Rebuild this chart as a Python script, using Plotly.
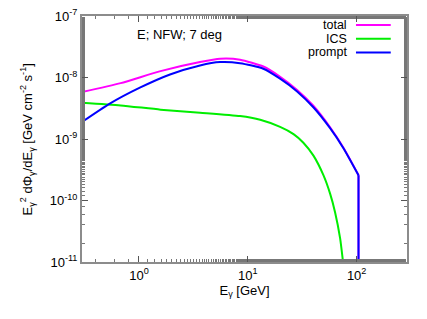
import plotly.graph_objects as go

# ---- data ----
prompt_E = [0.3, 0.54, 1.02, 1.93, 3.64, 5.57, 8.49, 13.9, 19.8, 28.2, 40.0, 57.0, 75.6, 104]
prompt_F = [1.89e-9, 3.76e-9, 6.83e-9, 1.12e-8, 1.57e-8, 1.78e-8, 1.71e-8, 1.39e-8, 9.57e-9,
            6.0e-9, 3.28e-9, 1.5e-9, 7.1e-10, 2.58e-10]

total_E = [0.3, 0.68, 1.58, 3.64, 5.57, 8.49, 13.9, 19.8, 28.2, 40.0, 57.0, 75.6, 104]
total_F = [5.8e-9, 8.1e-9, 1.27e-8, 1.78e-8, 2.02e-8, 1.95e-8, 1.51e-8, 1.03e-8,
           6.34e-9, 3.47e-9, 1.55e-9, 7.2e-10, 2.58e-10]

ics_E = [0.3, 0.68, 1.58, 3.64, 8.49, 13.0, 19.8, 26.3, 32.4, 40.1, 49.5, 57.1, 63.4, 70.5, 74.6, 78.4]
ics_F = [3.9e-9, 3.52e-9, 3.0e-9, 2.68e-9, 2.36e-9, 2.05e-9, 1.57e-9, 1.2e-9, 8.71e-10,
         5.36e-10, 2.58e-10, 1.28e-10, 6.4e-11, 2.43e-11, 1.08e-11, 5e-12]

cutoff_E = [104, 104]
cutoff_F = [2.58e-10, 1e-12]

y_tickvals = [1e-11, 1e-10, 1e-9, 1e-8, 1e-7]
y_ticktext = ["10<sup>-11</sup>", "10<sup>-10</sup>", "10<sup>-9</sup>", "10<sup>-8</sup>", "10<sup>-7</sup>"]
x_tickvals = [1, 10, 100]
x_ticktext = ["10<sup>0</sup>", "10<sup>1</sup>", "10<sup>2</sup>"]

series = [("total", "#ff00ff"), ("ICS", "#00ee00"), ("prompt", "#0000ff")]

fig = go.Figure()
fig.add_trace(go.Scatter(x=ics_E, y=ics_F, mode="lines", name="ICS",
                         line=dict(color="#00ee00", width=2, shape="spline", smoothing=0.6)))
fig.add_trace(go.Scatter(x=total_E, y=total_F, mode="lines", name="total",
                         line=dict(color="#ff00ff", width=2, shape="spline", smoothing=0.6)))
fig.add_trace(go.Scatter(x=cutoff_E, y=cutoff_F, mode="lines", showlegend=False,
                         line=dict(color="#ff00ff", width=2)))
fig.add_trace(go.Scatter(x=prompt_E, y=prompt_F, mode="lines", name="prompt",
                         line=dict(color="#0000ff", width=2, shape="spline", smoothing=0.6)))
fig.add_trace(go.Scatter(x=cutoff_E, y=cutoff_F, mode="lines", showlegend=False,
                         line=dict(color="#0000ff", width=2)))

font = "Liberation Sans, Arial, sans-serif"

# custom gnuplot-style legend (text right-aligned, sample line to the right)
for i, (name, col) in enumerate(series):
    yy = 0.963 - i * 0.0555
    fig.add_annotation(xref="paper", yref="paper", x=0.821, y=yy, text=name,
                       showarrow=False, xanchor="right", yanchor="middle",
                       font=dict(family=font, size=12.5, color="black"))
    fig.add_shape(type="line", xref="paper", yref="paper", x0=0.843, x1=0.95, y0=yy, y1=yy,
                  line=dict(color=col, width=2))

fig.add_annotation(xref="paper", yref="paper", x=0.3, y=0.925, text="E; NFW; 7 deg",
                   showarrow=False, xanchor="center", yanchor="middle",
                   font=dict(family=font, size=13, color="black"))

# y-axis title placed as rotated text left of the tick labels
fig.add_annotation(xref="paper", yref="paper", x=-0.168, y=0.5, textangle=-90,
                   text="E<sub>γ</sub><sup>2</sup> dΦ<sub>γ</sub>/dE<sub>γ</sub> [GeV cm<sup>-2</sup> s<sup>-1</sup>]",
                   showarrow=False, xanchor="center", yanchor="middle",
                   font=dict(family=font, size=13, color="black"))

axis_common = dict(showline=True, linecolor="#8c8c8c", linewidth=2, mirror="ticks",
                   ticks="inside", ticklen=6, tickcolor="#555", showgrid=False, zeroline=False,
                   automargin=False, ticklabeloverflow="allow",
                   tickfont=dict(family=font, size=13, color="black"),
                   minor=dict(ticks="inside", ticklen=3, tickcolor="#777", showgrid=False))

fig.update_xaxes(type="log", range=[-0.5229, 2.4624], tickvals=x_tickvals, ticktext=x_ticktext,
                 title=dict(text="E<sub>γ</sub> [GeV]", font=dict(family=font, size=13), standoff=4),
                 **axis_common)
fig.update_yaxes(type="log", range=[-11, -7], tickvals=y_tickvals, ticktext=y_ticktext,
                 **axis_common)

# page body has an 8px default margin; size/margins compensate so the plot area sits where the reference has it
fig.update_layout(width=419, height=311, showlegend=False,
                  margin=dict(l=74, r=20, t=8, b=57, autoexpand=False),
                  paper_bgcolor="white", plot_bgcolor="white",
                  font=dict(family=font, size=13, color="black"))

fig.write_html("out.html")
